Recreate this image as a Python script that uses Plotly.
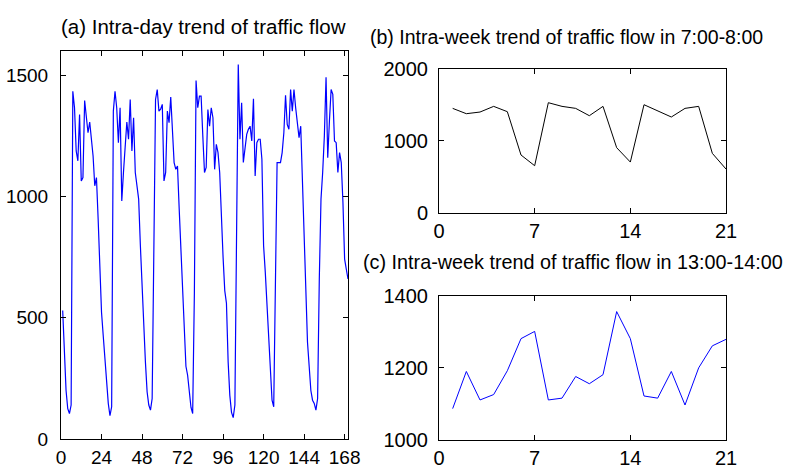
import plotly.graph_objects as go

# (a) hourly traffic flow over a week (hours 1..170)
flow_hourly = [
    530, 330, 200, 125, 105, 140, 1434, 1366, 1188, 1147, 1338, 1064, 1078, 1396, 1330, 1263, 1307, 1249, 1167, 1044, 1078, 907, 700, 523,
    427, 318, 208, 147, 96, 133, 1352, 1434, 1366, 1222, 1366, 982, 1099, 1222, 1307, 1236, 1400, 1188, 1325, 1099, 1040, 989, 800, 633,
    450, 318, 195, 140, 119, 167, 780, 1400, 1441, 1352, 1360, 1380, 1064, 1099, 1352, 1304, 1410, 1277, 1140, 1112, 1126, 950, 800, 620,
    450, 300, 263, 190, 130, 105, 600, 1478, 1366, 1414, 1414, 1250, 1099, 1120, 1359, 1290, 1366, 1325, 1112, 1215, 1181, 1099, 900, 750,
    612, 560, 318, 180, 110, 88, 140, 800, 1544, 1236, 1386, 1140, 1200, 1256, 1277, 1290, 1229, 1403, 1085, 1222, 1236, 1236, 1154, 797,
    688, 560, 400, 290, 160, 133, 660, 1140, 1140, 1140, 1181, 1263, 1417, 1297, 1277, 1441, 1352, 1441, 1366, 1290, 1243, 1290, 1050, 800,
    560, 400, 300, 200, 160, 147, 119, 167, 660, 989, 1100, 1250, 1492, 1160, 1311, 1441, 1421, 1229, 1222, 1099, 1181, 1140, 975, 742,
    700, 660,
]
hours = list(range(1, len(flow_hourly) + 1))
hour_ticks = [0, 24, 48, 72, 96, 120, 144, 168]

# (b) 7:00-8:00 flow over 21 days
days = list(range(1, 22))
flow_7_8 = [1452, 1378, 1401, 1480, 1406, 803, 654, 1531, 1480, 1452, 1350, 1480, 905, 705,
            1503, 1420, 1332, 1452, 1480, 826, 608]
# (c) 13:00-14:00 flow over 21 days
flow_13_14 = [1087, 1190, 1111, 1126, 1192, 1281, 1301, 1111, 1116, 1176, 1156, 1181, 1356, 1281,
              1122, 1116, 1190, 1097, 1200, 1261, 1279]
day_ticks = [0, 7, 14, 21]

titles = ["(a) Intra-day trend of traffic flow",
          "(b) Intra-week trend of traffic flow in 7:00-8:00",
          "(c) Intra-week trend of traffic flow in 13:00-14:00"]

W, H = 803, 468
FONT = "Liberation Sans, Arial, sans-serif"

fig = go.Figure()
fig.add_trace(go.Scatter(x=hours, y=flow_hourly, mode="lines",
                         line=dict(color="#0000FF", width=1.2), xaxis="x", yaxis="y"))
fig.add_trace(go.Scatter(x=days, y=flow_7_8, mode="lines",
                         line=dict(color="#000000", width=1), xaxis="x2", yaxis="y2"))
fig.add_trace(go.Scatter(x=days, y=flow_13_14, mode="lines",
                         line=dict(color="#0000FF", width=1), xaxis="x3", yaxis="y3"))

def px_x(a, b):
    return [a / W, b / W]

def px_y(top, bottom):
    return [(H - bottom) / H, (H - top) / H]

def common(size):
    return dict(showline=True, linecolor="black", linewidth=1, mirror="ticks",
                ticks="inside", ticklen=5, tickcolor="black", showgrid=False,
                zeroline=False, automargin=False,
                tickfont=dict(size=size, color="black", family=FONT))

fig.update_layout(
    width=W, height=H, margin=dict(l=0, r=0, t=0, b=0, autoexpand=False),
    paper_bgcolor="white", plot_bgcolor="white", showlegend=False,
    font=dict(family=FONT, color="black"),
    xaxis=dict(domain=px_x(61, 348), range=[0, 170], tickvals=hour_ticks,
               anchor="y", ticklabelstandoff=1, **common(19)),
    yaxis=dict(domain=px_y(51, 439), range=[0, 1600], tickvals=[0, 500, 1000, 1500],
               anchor="x", ticklabelstandoff=8, **common(19)),
    xaxis2=dict(domain=px_x(439, 726), range=[0, 21], tickvals=day_ticks,
                anchor="y2", ticklabelstandoff=0, **common(20)),
    yaxis2=dict(domain=px_y(69, 212.7), range=[0, 2000], tickvals=[0, 1000, 2000],
                anchor="x2", ticklabelstandoff=6, **common(20)),
    xaxis3=dict(domain=px_x(439, 726), range=[0, 21], tickvals=day_ticks,
                anchor="y3", ticklabelstandoff=0, **common(20)),
    yaxis3=dict(domain=px_y(295.7, 440), range=[1000, 1400], tickvals=[1000, 1200, 1400],
                anchor="x3", ticklabelstandoff=6, **common(20)),
)

title_pos = [(203, 26), (566, 37), (573, 262)]
title_sizes = [20.5, 19.5, 19.8]
for t, (cx, cy), s in zip(titles, title_pos, title_sizes):
    fig.add_annotation(text=t, x=cx / W, y=(H - cy) / H, xref="paper", yref="paper",
                       xanchor="center", yanchor="middle", showarrow=False,
                       font=dict(size=s, color="black", family=FONT))

fig.write_html("out.html")
